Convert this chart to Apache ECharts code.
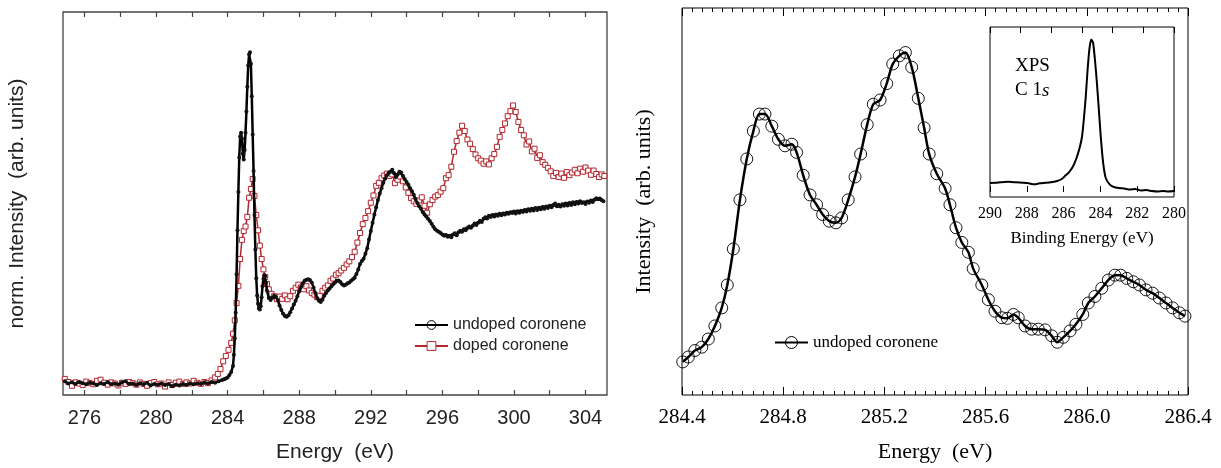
<!DOCTYPE html>
<html>
<head>
<meta charset="utf-8">
<script src="https://cdn.jsdelivr.net/npm/echarts@6/dist/echarts.min.js"></script>
<style>
html,body{margin:0;padding:0;background:#fff;}
#chart{width:1221px;height:468px;}
</style>
</head>
<body>
<div id="chart"></div>
<script>
// ---------- DATA ----------
// Left panel (NEXAFS): [photon energy (eV), normalized intensity (arb.)]
const undopedNexafs = [
[274.9,3.6],[275.1,3.0],[275.3,3.3],[275.5,2.9],[275.7,3.4],[275.9,3.1],[276.1,2.8],[276.3,3.2],[276.5,3.0],[276.7,2.6],
[276.9,3.1],[277.1,2.9],[277.3,3.4],[277.5,2.8],[277.7,3.0],[277.9,2.7],[278.1,3.3],[278.3,3.6],[278.5,2.9],[278.7,3.0],
[278.9,2.6],[279.1,3.1],[279.3,2.8],[279.5,3.2],[279.7,2.5],[279.9,2.9],[280.1,2.7],[280.3,3.0],[280.5,2.6],[280.7,2.9],
[280.9,2.3],[281.1,2.7],[281.3,2.5],[281.5,2.9],[281.7,2.6],[281.9,3.0],[282.1,2.8],[282.3,3.1],[282.5,2.9],[282.7,3.3],
[282.9,3.0],[283.1,3.4],[283.3,3.2],[283.5,3.6],[283.7,3.9],
[283.8,4.1],[283.9,4.3],[284.0,4.6],[284.1,5.2],[284.2,6.0],[284.3,7.6],[284.35,10.5],[284.4,14.8],[284.45,21.5],[284.5,31.5],
[284.55,43],[284.6,53],[284.65,62],[284.7,67.5],[284.75,68.5],[284.8,67],[284.85,63],[284.9,61.5],[284.95,64],[285.0,68.5],
[285.05,74],[285.1,80.5],[285.15,86],[285.2,89],[285.25,89.5],[285.3,86.5],[285.35,78],[285.4,68],[285.45,58.5],[285.5,47],
[285.55,38],[285.6,30.5],[285.65,26],[285.7,23.8],[285.75,22.6],[285.8,22.3],[285.85,23.2],[285.9,25.5],[285.95,28.4],[286.0,30.3],
[286.05,31.3],[286.1,31],[286.15,29.3],[286.2,27.2],
[286.3,25.3],[286.4,24.8],[286.5,25.4],[286.6,25.9],[286.7,25.6],[286.8,24.8],[286.9,23.4],[287.0,22.2],[287.1,21.2],[287.2,20.6],
[287.3,20.4],[287.4,20.8],[287.5,21.6],[287.6,22.6],[287.7,23.6],[287.8,24.6],[287.9,25.8],[288.0,27.1],[288.1,28.2],[288.2,29.2],
[288.3,29.8],[288.4,30.1],[288.5,30.2],[288.6,30.0],[288.7,29.4],[288.8,28.1],[288.9,26.6],[289.0,25.3],[289.1,24.6],[289.2,24.3],
[289.3,24.9],[289.4,25.9],[289.5,26.6],[289.6,27.3],[289.7,27.8],[289.8,28.4],[289.9,28.9],[290.0,29.4],[290.1,29.8],[290.2,29.9],
[290.3,29.5],[290.4,28.9],[290.5,28.6],[290.6,28.8],[290.7,29.2],[290.8,29.4],[290.9,29.8],[291.0,30.2],[291.1,30.6],[291.2,31.6],
[291.3,32.8],[291.4,34.2],[291.5,35.0],[291.6,35.6],[291.7,36.9],[291.8,38.3],[291.9,40.6],[292.0,42.8],[292.1,45.0],[292.2,47.1],
[292.3,49.0],[292.4,50.9],[292.5,52.6],[292.6,54.0],[292.7,55.4],[292.8,56.5],[292.9,57.4],[293.0,58.0],[293.1,58.3],[293.2,58.8],
[293.3,57.9],[293.4,56.9],[293.5,57.6],[293.6,58.3],[293.7,58.1],[293.8,57.2],[293.9,56.3],[294.0,55.6],[294.1,54.9],[294.2,54.0],
[294.3,53.2],[294.4,52.3],[294.5,51.2],[294.6,50.1],[294.7,49.3],[294.8,48.6],[294.9,47.8],[295.0,47.1],[295.1,46.6],[295.2,46.0],
[295.3,45.4],[295.4,44.7],[295.5,43.9],[295.6,43.3],[295.7,42.9],[295.8,42.6],[295.9,42.3],[296.0,41.9],[296.1,41.6],[296.2,41.8],
[296.3,41.3],[296.4,41.6],[296.5,41.2],[296.6,41.9],[296.7,42.2],[296.8,41.7],[296.9,42.5],[297.0,42.9],[297.1,42.6],[297.2,43.3],
[297.3,43.0],[297.4,43.6],[297.5,44.0],[297.6,43.7],[297.7,44.2],[297.8,44.8],[297.9,44.4],[298.0,45.0],[298.1,45.5],[298.2,45.2],
[298.3,46.0],[298.4,46.4],[298.5,46.1],[298.6,46.8],[298.7,46.5],[298.8,47.0],[298.9,46.6],[299.0,47.1],[299.1,46.8],[299.2,47.3],
[299.3,46.9],[299.4,47.4],[299.5,47.1],[299.6,47.6],[299.7,47.3],[299.8,47.7],[299.9,47.5],[300.0,47.9],[300.1,47.4],[300.2,48.0],
[300.3,47.6],[300.4,48.1],[300.5,47.8],[300.6,48.3],[300.7,47.9],[300.8,48.5],[300.9,48.1],[301.0,48.6],[301.1,48.2],[301.2,48.8],
[301.3,48.3],[301.4,48.9],[301.5,48.5],[301.6,49.1],[301.7,48.6],[301.8,49.2],[301.9,48.8],[302.0,49.4],[302.1,49.0],[302.2,49.6],
[302.3,50.0],[302.4,49.3],[302.5,49.7],[302.6,49.2],[302.7,49.8],[302.8,49.4],[302.9,50.0],[303.0,49.5],[303.1,50.1],[303.2,49.6],
[303.3,50.3],[303.4,49.8],[303.5,50.4],[303.6,50.0],[303.7,50.6],[303.8,50.1],[303.9,50.3],[304.0,49.9],[304.1,50.5],[304.2,50.2],
[304.3,50.8],[304.4,50.4],[304.5,51.0],[304.6,51.4],[304.7,51.1],[304.8,51.3],[304.9,50.9],[305.0,50.6]
];

const dopedNexafs = [
[274.9,4.2],[275.1,3.4],[275.3,2.4],[275.5,3.3],[275.7,3.0],[275.9,2.6],[276.1,3.5],[276.3,3.1],[276.5,2.8],[276.7,3.7],
[276.9,4.0],[277.1,3.2],[277.3,2.7],[277.5,3.3],[277.7,3.0],[277.9,2.5],[278.1,3.2],[278.3,2.9],[278.5,3.4],[278.7,3.1],
[278.9,2.7],[279.1,3.3],[279.3,2.9],[279.5,2.4],[279.7,3.1],[279.9,3.4],[280.1,2.8],[280.3,3.0],[280.5,2.2],[280.7,3.3],
[280.9,2.6],[281.1,3.2],[281.3,3.5],[281.5,2.9],[281.7,3.3],[281.9,3.0],[282.1,3.7],[282.3,3.2],[282.5,2.9],[282.7,3.4],
[282.9,3.1],[283.1,3.8],[283.3,4.6],[283.45,5.5],[283.6,6.8],[283.75,8.8],[283.9,10.2],[284.05,11.8],[284.2,13.6],[284.3,16.0],
[284.4,19.5],[284.5,24.0],[284.6,28.5],[284.7,35.5],[284.8,40.5],[284.9,42.8],[285.0,44.0],[285.1,46.5],[285.2,51.5],[285.3,53.8],
[285.4,56.4],[285.5,52.0],[285.6,47.0],[285.7,43.0],[285.8,39.0],[285.9,35.5],[286.0,32.8],[286.1,30.8],[286.2,29.0],[286.3,27.6],
[286.45,26.4],[286.6,25.8],[286.75,25.0],[286.9,25.7],[287.05,25.1],[287.2,26.0],[287.35,25.0],[287.5,25.8],[287.65,27.2],[287.8,28.0],
[287.95,28.8],[288.1,28.1],[288.25,27.6],[288.4,28.4],[288.55,27.3],[288.7,26.6],[288.85,26.2],[289.0,25.5],[289.15,25.9],[289.3,27.2],
[289.45,28.0],[289.6,28.6],[289.75,29.8],[289.9,30.4],[290.05,31.4],[290.2,31.8],[290.35,32.5],[290.5,33.2],[290.65,34.1],[290.8,34.9],
[290.95,36.0],[291.1,37.4],[291.25,39.8],[291.4,42.3],[291.55,44.6],[291.7,46.2],[291.85,48.0],[292.0,50.2],[292.15,52.1],[292.3,54.6],
[292.45,55.4],[292.6,56.6],[292.75,57.3],[292.9,57.8],[293.05,57.2],[293.2,57.6],[293.35,55.3],[293.5,56.2],[293.65,57.0],[293.8,55.8],
[293.95,54.2],[294.1,52.8],[294.25,51.4],[294.4,50.6],[294.55,49.9],[294.7,50.8],[294.85,51.6],[295.0,49.4],[295.15,47.6],[295.3,49.8],
[295.45,50.9],[295.6,51.8],[295.75,52.2],[295.9,53.1],[296.05,54.0],[296.2,56.6],[296.35,57.4],[296.5,59.6],[296.65,63.5],[296.8,66.3],
[296.95,68.5],[297.1,70.3],[297.25,68.9],[297.4,66.7],[297.55,65.6],[297.7,64.2],[297.85,62.8],[298.0,61.8],[298.15,61.2],[298.3,60.4],
[298.45,61.0],[298.6,60.2],[298.75,61.8],[298.9,62.9],[299.05,64.8],[299.2,67.4],[299.35,69.2],[299.5,70.9],[299.65,72.8],[299.8,74.1],
[299.95,75.6],[300.1,73.9],[300.25,71.3],[300.4,69.2],[300.55,67.8],[300.7,65.4],[300.85,66.2],[301.0,63.6],[301.15,64.3],[301.3,61.9],
[301.45,62.6],[301.6,60.8],[301.75,60.1],[301.9,59.3],[302.05,58.4],[302.2,57.2],[302.35,58.0],[302.5,56.9],[302.65,57.8],[302.8,56.7],
[302.95,58.2],[303.1,57.4],[303.25,58.1],[303.4,58.8],[303.55,57.9],[303.7,59.1],[303.85,58.3],[304.0,59.4],[304.15,58.6],[304.3,57.5],
[304.45,58.6],[304.6,57.7],[304.75,56.9],[304.9,57.6],[305.05,57.2]
];

// Right panel (high-resolution pi* region): [energy (eV), intensity (arb.)]
const undopedPiStar = [
[284.403,8.55],[284.425,9.82],[284.451,11.5],[284.478,12.36],[284.504,14.47],[284.53,17.84],[284.557,22.51],[284.579,28.43],
[284.603,37.74],[284.629,50.43],[284.656,60.99],[284.682,68.2],[284.706,72.59],[284.728,72.59],[284.755,69.47],[284.781,66.07],
[284.807,64.39],[284.834,64.8],[284.853,62.69],[284.879,56.78],[284.906,51.7],[284.932,49.16],[284.956,46.62],[284.982,44.92],
[285.008,44.49],[285.031,45.76],[285.057,50.43],[285.084,56.35],[285.106,62.26],[285.132,69.87],[285.156,75.13],[285.183,76.22],
[285.209,80.46],[285.233,85.53],[285.259,87.64],[285.283,88.5],[285.308,84.7],[285.334,76.65],[285.357,69.04],[285.377,62.26],
[285.407,57.18],[285.44,53.38],[285.459,49.16],[285.483,43.22],[285.506,39.42],[285.532,36.88],[285.551,32.66],[285.585,28.43],
[285.611,24.62],[285.637,21.65],[285.664,19.97],[285.686,19.8],[285.71,20.81],[285.729,19.97],[285.756,17.84],[285.782,17.01],
[285.808,17.01],[285.835,16.83],[285.861,15.3],[285.883,13.63],[285.907,14.9],[285.934,16.57],[285.957,18.27],[285.984,20.81],
[286.006,23.78],[286.032,25.46],[286.059,27.59],[286.085,29.7],[286.111,30.96],[286.134,30.96],[286.158,30.13],[286.184,29.26],
[286.208,28.43],[286.234,27.16],[286.26,26.32],[286.287,25.05],[286.313,23.78],[286.339,22.51],[286.366,21.24],[286.388,20.38]
];

// Inset (XPS C 1s): [binding energy (eV), intensity (arb.)]
const xpsC1s = [
[290.0,5.5],[289.7,5.6],[289.4,6.0],[289.0,6.2],[288.6,5.9],[288.2,5.6],[287.9,5.3],[287.6,4.7],[287.3,5.3],[287.0,5.6],
[286.7,5.9],[286.4,6.5],[286.1,7.9],[285.9,10.0],[285.7,12.1],[285.5,15.3],[285.3,20.6],[285.15,25.9],[285.0,33.5],[284.9,44.1],
[284.8,57.1],[284.7,73.5],[284.6,86.5],[284.5,92.4],[284.4,90.6],[284.3,80.6],[284.2,67.6],[284.1,52.4],[284.0,36.5],[283.9,22.9],
[283.8,13.5],[283.7,8.2],[283.5,4.7],[283.3,3.2],[283.0,2.4],[282.7,2.1],[282.4,1.5],[282.1,1.8],[281.8,0.9],[281.5,1.2],
[281.2,0.6],[280.9,0.3],[280.6,0.6],[280.3,0.3],[280.0,0.6]
];

// Tick values
const leftLabelTicks = [276,280,284,288,292,296,300,304];
const leftAllTicks = [276,278,280,282,284,286,288,290,292,294,296,298,300,302,304];
const insetTicks = [280,282,284,286,288,290];

const seriesNames = ['undoped coronene','doped coronene'];
const insetLabel = ['XPS','C 1s'];

// ---------- CHART ----------
const SANS = "'Liberation Sans', Arial, Helvetica, sans-serif";
const SERIF = "'Liberation Serif', 'Times New Roman', serif";
const RED = '#b3262e';

const chart = echarts.init(document.getElementById('chart'), null, {renderer:'canvas'});

const option = {
  animation: false,
  backgroundColor: '#fff',
  title: [
    {text: insetLabel[0], left: 1015, top: 57, padding: 0,
     textStyle: {fontFamily: SERIF, fontSize: 19, fontWeight: 'normal', color: '#000'}},
    {text: 'C 1{i|s}', left: 1015, top: 81, padding: 0,
     textStyle: {fontFamily: SERIF, fontSize: 19, fontWeight: 'normal', color: '#000',
       rich: {i: {fontFamily: SERIF, fontSize: 19, fontStyle: 'italic', color: '#000'}}}}
  ],
  legend: [
    {
      orient: 'vertical', left: 409, top: 312, itemWidth: 33, itemHeight: 11, itemGap: 5,
      textStyle: {fontFamily: SANS, fontSize: 16, color: '#222', lineHeight: 16},
      selectedMode: false,
      data: [
        {name: seriesNames[0], itemStyle: {color: 'rgba(0,0,0,0)', borderColor: '#000', borderWidth: 1}},
        {name: seriesNames[1], itemStyle: {color: '#fff', borderColor: RED, borderWidth: 1}}
      ]
    },
    {
      orient: 'vertical', left: 769, top: 329, itemWidth: 33, itemHeight: 15,
      textStyle: {fontFamily: SERIF, fontSize: 17, color: '#000', lineHeight: 17},
      selectedMode: false,
      data: [
        {name: seriesNames[0], itemStyle: {color: 'rgba(0,0,0,0)', borderColor: '#000', borderWidth: 1}}
      ]
    }
  ],
  grid: [
    {left: 63, top: 12, width: 544, height: 390, show: true, borderColor: '#444', borderWidth: 1.3, backgroundColor: 'rgba(0,0,0,0)'},
    {left: 682, top: 8, width: 506, height: 394, show: true, borderColor: '#000', borderWidth: 1, backgroundColor: 'rgba(0,0,0,0)'},
    {left: 990, top: 27, width: 184, height: 170, show: true, borderColor: '#000', borderWidth: 1, backgroundColor: '#fff', z: 5}
  ],
  xAxis: [
    {
      gridIndex: 0, type: 'value', min: 274.8, max: 305.2, position: 'bottom',
      axisLine: {show: false}, splitLine: {show: false},
      axisTick: {show: true, inside: true, length: 5, customValues: leftAllTicks, lineStyle: {color: '#444', width: 1.2}},
      axisLabel: {customValues: leftLabelTicks, fontFamily: SANS, fontSize: 20, color: '#222', margin: 13},
      name: 'Energy  (eV)', nameLocation: 'middle', nameGap: 47,
      nameTextStyle: {fontFamily: SANS, fontSize: 21, color: '#222'}
    },
    {
      gridIndex: 0, type: 'value', min: 274.8, max: 305.2, position: 'top',
      axisLine: {show: false}, splitLine: {show: false},
      axisTick: {show: true, inside: true, length: 5, customValues: leftAllTicks, lineStyle: {color: '#444', width: 1.2}},
      axisLabel: {show: false}
    },
    {
      gridIndex: 1, type: 'value', min: 284.4, max: 286.4, interval: 0.4, position: 'bottom',
      axisLine: {show: false}, splitLine: {show: false}, minorSplitLine: {show: false},
      axisTick: {show: true, inside: true, length: 8, lineStyle: {color: '#000'}},
      minorTick: {show: true, splitNumber: 10, length: 4, lineStyle: {color: '#000'}},
      axisLabel: {fontFamily: SERIF, fontSize: 21, color: '#000', margin: 12, formatter: v => v.toFixed(1)},
      name: 'Energy  (eV)', nameLocation: 'middle', nameGap: 46,
      nameTextStyle: {fontFamily: SERIF, fontSize: 22, color: '#000'}
    },
    {
      gridIndex: 1, type: 'value', min: 284.4, max: 286.4, interval: 0.4, position: 'top',
      axisLine: {show: false}, splitLine: {show: false}, minorSplitLine: {show: false},
      axisTick: {show: true, inside: true, length: 8, lineStyle: {color: '#000'}},
      minorTick: {show: true, splitNumber: 10, length: 4, lineStyle: {color: '#000'}},
      axisLabel: {show: false}
    },
    {
      gridIndex: 2, type: 'value', min: 280, max: 290, interval: 2, inverse: true, position: 'bottom', z: 6,
      axisLine: {show: false}, splitLine: {show: false},
      axisTick: {show: true, inside: true, length: 6, lineStyle: {color: '#000'}},
      axisLabel: {customValues: insetTicks, fontFamily: SERIF, fontSize: 16, color: '#000', margin: 9},
      name: 'Binding Energy (eV)', nameLocation: 'middle', nameGap: 33,
      nameTextStyle: {fontFamily: SERIF, fontSize: 17, color: '#000'}
    },
    {
      gridIndex: 2, type: 'value', min: 0, max: 6, interval: 1, position: 'top', z: 6,
      axisLine: {show: false}, splitLine: {show: false},
      axisTick: {show: true, inside: true, length: 6, lineStyle: {color: '#000'}},
      axisLabel: {show: false}
    }
  ],
  yAxis: [
    {
      gridIndex: 0, type: 'value', min: 0, max: 100,
      axisLine: {show: false}, axisTick: {show: false}, axisLabel: {show: false}, splitLine: {show: false},
      name: 'norm. Intensity  (arb. units)', nameLocation: 'middle', nameGap: 35,
      nameTextStyle: {fontFamily: SANS, fontSize: 21, color: '#222'}
    },
    {
      gridIndex: 1, type: 'value', min: 0, max: 100,
      axisLine: {show: false}, axisTick: {show: false}, axisLabel: {show: false}, splitLine: {show: false},
      name: 'Intensity  (arb. units)', nameLocation: 'middle', nameGap: 27,
      nameTextStyle: {fontFamily: SERIF, fontSize: 22, color: '#000'}
    },
    {
      gridIndex: 2, type: 'value', min: -3, max: 100,
      axisLine: {show: false}, axisTick: {show: false}, axisLabel: {show: false}, splitLine: {show: false}
    }
  ],
  series: [
    {
      name: seriesNames[1], type: 'line', xAxisIndex: 0, yAxisIndex: 0, data: dopedNexafs,
      symbol: 'rect', symbolSize: 5, showSymbol: true,
      lineStyle: {color: RED, width: 1.5},
      itemStyle: {color: '#fff', borderColor: RED, borderWidth: 1},
      emphasis: {disabled: true}, z: 2
    },
    {
      name: seriesNames[0], type: 'line', xAxisIndex: 0, yAxisIndex: 0, data: undopedNexafs,
      symbol: 'circle', symbolSize: 4, showSymbol: true,
      lineStyle: {color: '#000', width: 2.5},
      itemStyle: {color: '#111', borderWidth: 0},
      emphasis: {disabled: true}, z: 3
    },
    {
      name: seriesNames[0], type: 'line', xAxisIndex: 2, yAxisIndex: 1, data: undopedPiStar,
      smooth: 0.3, symbol: 'circle', symbolSize: 12, showSymbol: true,
      lineStyle: {color: '#000', width: 2.5},
      itemStyle: {color: 'rgba(0,0,0,0)', borderColor: '#000', borderWidth: 0.9},
      emphasis: {disabled: true}, z: 3
    },
    {
      name: 'XPS C 1s', type: 'line', xAxisIndex: 4, yAxisIndex: 2, data: xpsC1s,
      smooth: 0.2, symbol: 'none',
      lineStyle: {color: '#000', width: 2},
      emphasis: {disabled: true}, z: 6
    }
  ]
};

chart.setOption(option);
</script>
</body>
</html>
